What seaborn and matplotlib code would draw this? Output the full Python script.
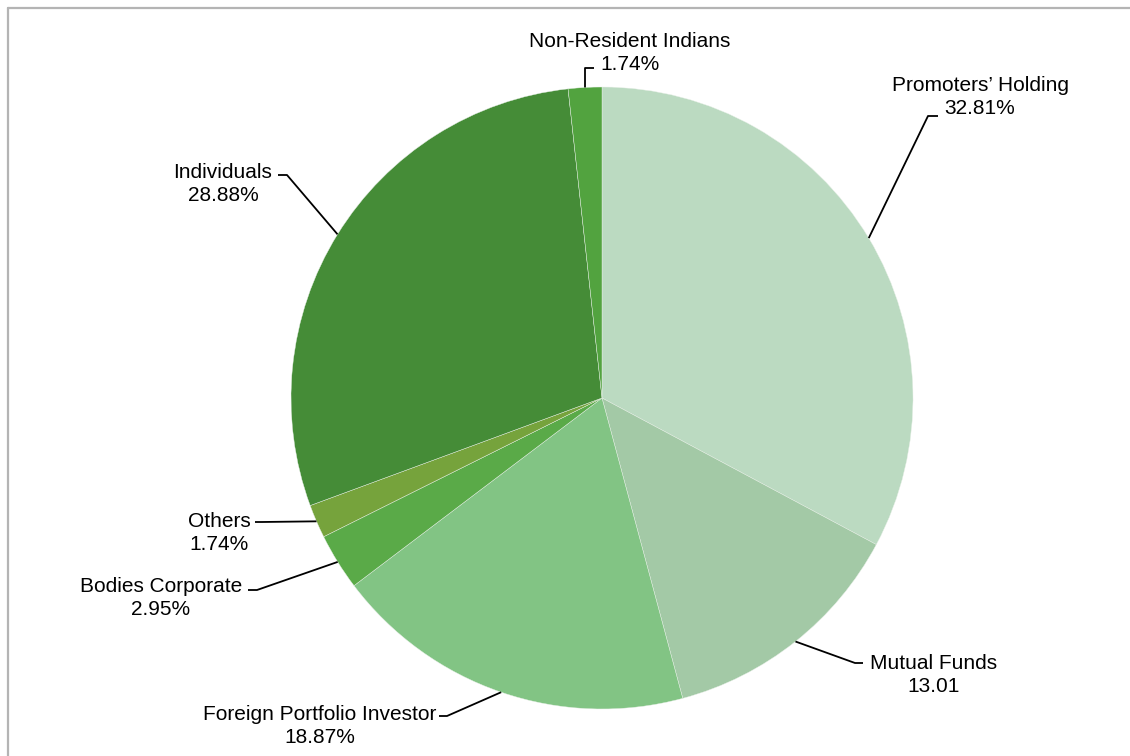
import numpy as np
import matplotlib
matplotlib.use("Agg")
import matplotlib.pyplot as plt
import seaborn as sns

# shareholding pattern (clockwise from 12 o'clock)
categories = ["Promoters\u2019 Holding", "Mutual Funds", "Foreign Portfolio Investor",
              "Bodies Corporate", "Others", "Individuals", "Non-Resident Indians"]
shares = [32.81, 13.01, 18.87, 2.95, 1.74, 28.88, 1.74]
value_labels = ["32.81%", "13.01", "18.87%", "2.95%", "1.74%", "28.88%", "1.74%"]
colors = ["#BBDAC1", "#A3C9A6", "#82C484", "#5AAA48", "#76A33C", "#458C37", "#52A33F"]

# label layout in pixels: text centre, elbow, end of short horizontal tick
text_pos = [(980, 97), (934, 675), (320, 726), (161, 598), (219, 533), (223, 184), (630, 53)]
elbows = [(928, 116), (855, 663), (447, 716), (257, 590), (262, 522), (287, 175), (585, 68)]
tick_ends = [(938, 116), (863, 663), (439, 716), (248, 590), (255, 522), (278, 175), (594, 68)]

W, H = 1130, 756
CX, CY, R = 602, 398, 311


def px(p):
    return ((p[0] - CX) / R, (CY - p[1]) / R)


sns.set_theme(style="white")
plt.rcParams['font.family'] = ['Liberation Sans', 'DejaVu Sans']

fig = plt.figure(figsize=(W / 100, H / 100), dpi=100)
ax = fig.add_axes([0, 0, 1, 1])

wedges, _ = ax.pie(shares, colors=sns.color_palette(colors), startangle=90, counterclock=False,
                   radius=1, center=(0, 0),
                   wedgeprops=dict(edgecolor="#E8F0E8", linewidth=0.3))

for w, lab, val, tp, el, te in zip(wedges, categories, value_labels, text_pos, elbows, tick_ends):
    mid = np.deg2rad((w.theta1 + w.theta2) / 2)
    edge = (np.cos(mid), np.sin(mid))
    e = px(el)
    t = px(te)
    ax.plot([edge[0], e[0], t[0]], [edge[1], e[1], t[1]], color="black", lw=1.3,
            solid_capstyle="butt")
    x, y = px(tp)
    ax.text(x, y, f"{lab}\n{val}", ha="center", va="center", multialignment="center",
            fontsize=15, color="black", linespacing=1.28)

ax.set_aspect("auto")
ax.set_xlim(-CX / R, (W - CX) / R)
ax.set_ylim((CY - H) / R, CY / R)
ax.axis("off")

# grey frame (only top and left visible in the crop)
fig.add_artist(plt.Line2D([7.5 / W, 1], [1 - 7.5 / H, 1 - 7.5 / H], color="#B4B4B4", lw=1.6,
                          transform=fig.transFigure))
fig.add_artist(plt.Line2D([7.5 / W, 7.5 / W], [0, 1 - 7.5 / H], color="#B4B4B4", lw=1.6,
                          transform=fig.transFigure))

fig.savefig("out.png", dpi=100, facecolor="white")
